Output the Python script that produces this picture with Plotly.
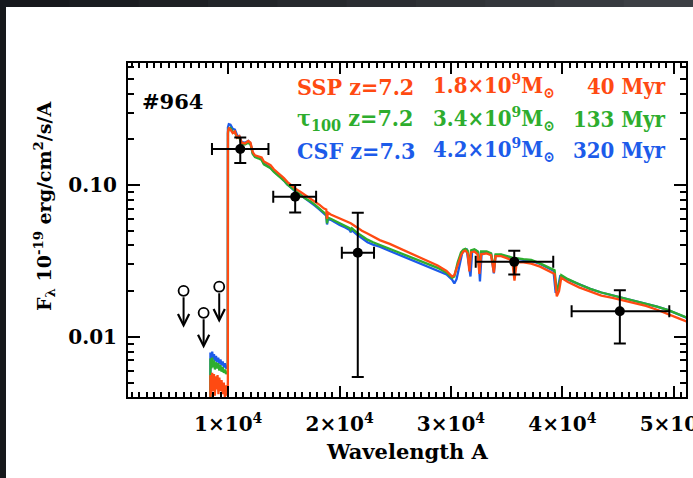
import numpy as np
import plotly.graph_objects as go

# ---------------- data ----------------
# model spectra: (wavelength [A], flux [1e-19 erg/cm2/s/A])
ssp = [(1000, 1e-5), (8390, 1e-5), (8400, 0.0056), (8480, 0.0042), (8560, 0.0058), (8640, 0.0044),
       (8720, 0.0057), (8800, 0.0041), (8880, 0.0055), (8960, 0.0045), (9040, 0.0056), (9120, 0.0042),
       (9200, 0.0054), (9300, 0.0044), (9400, 0.0052), (9500, 0.0042), (9600, 0.0050), (9700, 0.0040),
       (9800, 0.0048), (9900, 0.0041), (9950, 0.0045), (9965, 0.0050), (9975, 0.225), (10050, 0.236),
       (10200, 0.232), (10400, 0.220), (10600, 0.226), (10800, 0.205), (11000, 0.210), (11200, 0.190),
       (11500, 0.188), (11800, 0.195), (12000, 0.190), (12200, 0.165), (12400, 0.157), (12700, 0.155),
       (13000, 0.152), (13200, 0.143), (13500, 0.139), (13800, 0.135), (14100, 0.127), (14400, 0.122),
       (14700, 0.117), (15000, 0.111), (15300, 0.105), (15600, 0.100), (16000, 0.095), (16500, 0.090),
       (17000, 0.085), (17400, 0.0815), (17800, 0.078), (18200, 0.074), (18600, 0.070), (18800, 0.069),
       (18870, 0.060), (18950, 0.066), (19200, 0.064), (19600, 0.062), (20000, 0.060), (20500, 0.058),
       (21000, 0.056), (21500, 0.053), (22000, 0.050), (22500, 0.048), (23000, 0.046), (23600, 0.0434),
       (24500, 0.041), (25400, 0.0383), (26500, 0.0355), (27800, 0.0321), (28800, 0.0295), (29600, 0.0272),
       (30100, 0.0250), (30300, 0.0255), (30600, 0.030), (30900, 0.0345), (31100, 0.0365), (31300, 0.0370),
       (31500, 0.0355), (31650, 0.0270), (31800, 0.0360), (32100, 0.0365), (32400, 0.0350), (32550, 0.0260),
       (32700, 0.0350), (33200, 0.0355), (33600, 0.0345), (33850, 0.0265), (34000, 0.0340), (34500, 0.0340),
       (35000, 0.0330), (35500, 0.0318), (35700, 0.0235), (35900, 0.0310), (36500, 0.0310), (37200, 0.0304),
       (38000, 0.0290), (38800, 0.0270), (39300, 0.0260), (39500, 0.0185), (39700, 0.0200), (39900, 0.0245),
       (40500, 0.0230), (41500, 0.0212), (42500, 0.0198), (43500, 0.0187), (44500, 0.0181), (45500, 0.0174),
       (46500, 0.0167), (47500, 0.0160), (48500, 0.0151), (49500, 0.0142), (50500, 0.0132), (51200, 0.0126)]

tau100 = [(1000, 1e-5), (8390, 1e-5), (8400, 0.0072), (8480, 0.0062), (8560, 0.0073), (8640, 0.0063),
          (8720, 0.0070), (8800, 0.0061), (8900, 0.0068), (9000, 0.0062), (9100, 0.0067), (9200, 0.0060),
          (9300, 0.0065), (9400, 0.0059), (9500, 0.0063), (9600, 0.0058), (9700, 0.0061), (9800, 0.0057),
          (9900, 0.0059), (9950, 0.0057), (9965, 0.0060), (9975, 0.220), (10050, 0.235), (10200, 0.238),
          (10400, 0.225), (10600, 0.222), (10800, 0.205), (11000, 0.205), (11200, 0.188), (11500, 0.185),
          (11800, 0.190), (12000, 0.185), (12200, 0.160), (12400, 0.153), (12700, 0.150), (13000, 0.146),
          (13200, 0.137), (13500, 0.133), (13800, 0.129), (14100, 0.122), (14400, 0.117), (14700, 0.112),
          (15000, 0.107), (15300, 0.101), (15600, 0.097), (16000, 0.091), (16500, 0.086), (17000, 0.081),
          (17400, 0.078), (17800, 0.074), (18200, 0.070), (18600, 0.066), (18800, 0.064), (18870, 0.056),
          (18950, 0.061), (19200, 0.060), (19600, 0.058), (20000, 0.056), (20500, 0.054), (20900, 0.052),
          (21000, 0.0505), (21100, 0.052), (21500, 0.049), (22000, 0.046), (22500, 0.0437), (23000, 0.0420),
          (23600, 0.0403), (24500, 0.0380), (25400, 0.0358), (26500, 0.0334), (27800, 0.0305), (28800, 0.0285),
          (29600, 0.0265), (30100, 0.0245), (30300, 0.0250), (30600, 0.031), (30900, 0.0360), (31100, 0.0375),
          (31300, 0.0380), (31500, 0.0370), (31650, 0.0290), (31800, 0.0372), (32100, 0.0378), (32400, 0.0365),
          (32550, 0.0280), (32700, 0.0365), (33200, 0.0365), (33600, 0.0355), (33850, 0.0280), (34000, 0.0350),
          (34500, 0.0350), (35000, 0.0340), (35500, 0.0333), (35700, 0.0300), (35900, 0.0330), (36500, 0.0325),
          (37200, 0.0321), (38000, 0.0305), (38800, 0.0285), (39300, 0.0275), (39500, 0.0200), (39700, 0.0220),
          (39900, 0.0255), (40500, 0.0240), (41500, 0.0222), (42500, 0.0207), (43500, 0.0196), (44500, 0.0188),
          (45500, 0.0180), (46500, 0.0173), (47500, 0.0166), (48500, 0.0158), (49500, 0.0150), (50500, 0.0140),
          (51200, 0.0134)]

csf = [(1000, 1e-5), (8390, 1e-5), (8400, 0.0079), (8480, 0.0070), (8560, 0.0080), (8640, 0.0071),
       (8720, 0.0077), (8800, 0.0069), (8900, 0.0075), (9000, 0.0068), (9100, 0.0073), (9200, 0.0066),
       (9300, 0.0071), (9400, 0.0065), (9500, 0.0069), (9600, 0.0063), (9700, 0.0067), (9800, 0.0062),
       (9900, 0.0064), (9950, 0.0062), (9960, 0.0062), (9970, 0.240), (10050, 0.252), (10200, 0.250),
       (10400, 0.235), (10600, 0.232), (10800, 0.212), (11000, 0.210), (11200, 0.192), (11500, 0.190),
       (11800, 0.195), (12000, 0.188), (12200, 0.162), (12400, 0.155), (12700, 0.152), (13000, 0.148),
       (13200, 0.139), (13500, 0.135), (13800, 0.130), (14100, 0.123), (14400, 0.118), (14700, 0.113),
       (15000, 0.107), (15300, 0.101), (15600, 0.097), (16000, 0.091), (16500, 0.086), (17000, 0.081),
       (17400, 0.0775), (17800, 0.073), (18200, 0.069), (18600, 0.065), (18800, 0.063), (18870, 0.055),
       (18950, 0.060), (19200, 0.059), (19600, 0.0565), (20000, 0.0545), (20500, 0.0525), (20900, 0.0505),
       (21000, 0.049), (21100, 0.0505), (21500, 0.0475), (22000, 0.0445), (22500, 0.0420), (23000, 0.0405),
       (23600, 0.0393), (24500, 0.0368), (25400, 0.0346), (26500, 0.0322), (27800, 0.0295), (28800, 0.0275),
       (29600, 0.0258), (30100, 0.0238), (30300, 0.0225), (30500, 0.0240), (30800, 0.030), (31000, 0.0355),
       (31200, 0.0372), (31400, 0.0376), (31600, 0.0300), (31750, 0.0250), (31900, 0.0365), (32200, 0.0372),
       (32450, 0.0360), (32600, 0.0232), (32750, 0.0355), (33200, 0.0360), (33600, 0.0352), (33850, 0.0262),
       (34000, 0.0345), (34500, 0.0347), (35000, 0.0337), (35500, 0.0330), (35700, 0.0310), (35900, 0.0328),
       (36500, 0.0322), (37200, 0.0318), (38000, 0.0302), (38800, 0.0283), (39200, 0.0273), (39400, 0.0195),
       (39600, 0.0210), (39800, 0.0250), (40500, 0.0238), (41500, 0.0222), (42500, 0.0207), (43500, 0.0196),
       (44500, 0.0188), (45500, 0.0180), (46500, 0.0173), (47500, 0.0166), (48500, 0.0158), (49500, 0.0150),
       (50500, 0.0140), (51200, 0.0133)]

# photometric detections
det_wl = [11080, 16010, 21630, 35680, 45160]
det_wl_lo = [8540, 14040, 20200, 32220, 40830]
det_wl_hi = [13610, 17890, 23090, 39180, 49600]
det_f = [0.173, 0.0837, 0.0358, 0.0312, 0.01475]
det_f_lo = [0.140, 0.066, 0.00545, 0.0258, 0.00904]
det_f_hi = [0.206, 0.100, 0.0658, 0.0369, 0.0203]

# upper limits
lim_wl = [5990, 7790, 9190]
lim_f = [0.0201, 0.0144, 0.0214]
lim_tip = [0.0115, 0.0084, 0.0124]

xtick_vals = [10000, 20000, 30000, 40000, 50000]
xtick_text = ["1×10<sup>4</sup>", "2×10<sup>4</sup>", "3×10<sup>4</sup>", "4×10<sup>4</sup>", "5×10<sup>4</sup>"]

leg_label = ["SSP z=7.2", "τ<sub>100</sub> z=7.2", "CSF z=7.3"]
leg_mass = ["1.8×10<sup>9</sup>M<sub>⊙</sub>", "3.4×10<sup>9</sup>M<sub>⊙</sub>", "4.2×10<sup>9</sup>M<sub>⊙</sub>"]
leg_age = ["40 Myr", "133 Myr", "320 Myr"]

RED, GREEN, BLUE = "#FF4A12", "#2EAD2E", "#1C5BEA"
leg_colors = [RED, GREEN, BLUE]

# ---------------- geometry helpers (pixels -> paper) ----------------
W, H = 693, 478
L, R, T, B = 128, 686, 63, 397


def px(xp):
    return (xp - L) / (R - L)


def py(yp):
    return (B - yp) / (B - T)


FONT = "DejaVu Serif"
LEGFONT = "DejaVu Serif Condensed, DejaVu Serif"

fig = go.Figure()

for data, color in [(csf, BLUE), (tau100, GREEN), (ssp, RED)]:
    wl, fl = zip(*data)
    fig.add_trace(go.Scatter(x=list(wl), y=list(fl), mode="lines",
                             line=dict(color=color, width=2.3), hoverinfo="skip"))

fig.add_trace(go.Scatter(
    x=det_wl, y=det_f, mode="markers",
    marker=dict(color="black", size=10),
    error_x=dict(type="data", symmetric=False,
                 array=[h - x for h, x in zip(det_wl_hi, det_wl)],
                 arrayminus=[x - l for x, l in zip(det_wl, det_wl_lo)],
                 color="black", thickness=2, width=6),
    error_y=dict(type="data", symmetric=False,
                 array=[h - y for h, y in zip(det_f_hi, det_f)],
                 arrayminus=[y - l for y, l in zip(det_f, det_f_lo)],
                 color="black", thickness=2, width=6),
    hoverinfo="skip"))

fig.add_trace(go.Scatter(
    x=lim_wl, y=lim_f, mode="markers",
    marker=dict(symbol="circle", color="white", size=10, line=dict(color="black", width=1.8)),
    hoverinfo="skip"))

for x, y0, y1 in zip(lim_wl, lim_f, lim_tip):
    fig.add_annotation(x=x, y=np.log10(y1), ax=x, ay=np.log10(y0),
                       xref="x", yref="y", axref="x", ayref="y", text="",
                       showarrow=True, arrowhead=5, arrowsize=1.1, arrowwidth=2,
                       arrowcolor="black", startstandoff=5)

# legend-like texts
row_y = [86, 119, 150]
for lab, mass, age, col, yy in zip(leg_label, leg_mass, leg_age, leg_colors, row_y):
    fig.add_annotation(x=px(295), y=py(yy), xref="paper", yref="paper", text=lab,
                       xanchor="left", yanchor="middle", showarrow=False,
                       font=dict(family=LEGFONT, size=23, color=col, weight="bold"))
    fig.add_annotation(x=px(557), y=py(yy), xref="paper", yref="paper", text=mass,
                       xanchor="right", yanchor="middle", showarrow=False,
                       font=dict(family=LEGFONT, size=22, color=col, weight="bold"))
    fig.add_annotation(x=px(668), y=py(yy), xref="paper", yref="paper", text=age,
                       xanchor="right", yanchor="middle", showarrow=False,
                       font=dict(family=LEGFONT, size=22, color=col, weight="bold"))

fig.add_annotation(x=px(140), y=py(101), xref="paper", yref="paper", text="#964",
                   xanchor="left", yanchor="middle", showarrow=False,
                   font=dict(family=FONT, size=21, color="black", weight="bold"))

fig.add_annotation(x=px(407), y=py(451), xref="paper", yref="paper", text="Wavelength A",
                   xanchor="center", yanchor="middle", showarrow=False,
                   font=dict(family=FONT, size=21, color="black", weight="bold"))

fig.add_annotation(x=px(45), y=py(207), xref="paper", yref="paper",
                   text="F<sub>λ</sub> 10<sup>-19</sup> erg/cm<sup>2</sup>/s/A",
                   textangle=-90, xanchor="center", yanchor="middle", showarrow=False,
                   font=dict(family=FONT, size=19, color="black", weight="bold"))

# dark slide border (top and left)
fig.add_shape(type="rect", xref="paper", yref="paper", x0=px(0), x1=px(6), y0=py(H), y1=py(0),
              fillcolor="#16181b", line_width=0, layer="below")
nseg = 10
for i in range(nseg):
    c0 = np.array([22, 24, 28]); c1 = np.array([60, 63, 68])
    c = c0 + (c1 - c0) * i / (nseg - 1)
    fig.add_shape(type="rect", xref="paper", yref="paper",
                  x0=px(W * i / nseg), x1=px(min(W, W * (i + 1) / nseg + 1)), y0=py(7), y1=py(0),
                  fillcolor="rgb(%d,%d,%d)" % tuple(c), line_width=0, layer="below")

fig.update_layout(width=W, height=H, margin=dict(l=L, r=W - R, t=T, b=H - B, autoexpand=False),
                  paper_bgcolor="white", plot_bgcolor="white", showlegend=False,
                  font=dict(family=FONT, color="black"))

fig.update_xaxes(range=[1000, 51100], tickmode="array", tickvals=xtick_vals, ticktext=xtick_text,
                 ticks="inside", ticklen=11, tickwidth=2, tickcolor="black",
                 showline=True, linewidth=2, linecolor="black", mirror="ticks",
                 showgrid=False, zeroline=False, automargin=False,
                 tickfont=dict(family=FONT, size=20, weight="bold"),
                 ticklabelstandoff=8, ticklabeloverflow="allow",
                 minor=dict(tickmode="linear", tick0=0, dtick=10000 / 15, ticks="inside",
                            ticklen=5, tickwidth=1.5, tickcolor="black", showgrid=False))

fig.update_yaxes(type="log", range=[-2.396, -0.196], dtick=1, tick0=0, tickformat=".2f",
                 ticks="inside", ticklen=12, tickwidth=2, tickcolor="black",
                 showline=True, linewidth=2, linecolor="black", mirror="ticks",
                 showgrid=False, zeroline=False, automargin=False,
                 tickfont=dict(family=FONT, size=20, weight="bold"),
                 ticklabelstandoff=5,
                 minor=dict(dtick="D1", ticks="inside", ticklen=6, tickwidth=1.5,
                            tickcolor="black", showgrid=False))

fig.write_html("out.html", config={"displayModeBar": False},
               post_script="document.documentElement.style.overflow='hidden';"
                           "document.body.style.overflow='hidden';"
                           "document.body.style.margin='0';")
